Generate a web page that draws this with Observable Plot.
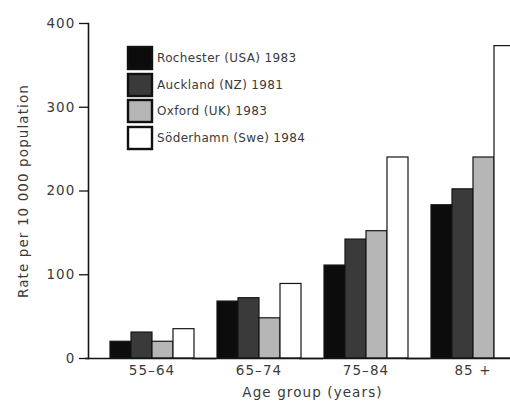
<!DOCTYPE html>
<html>
<head>
<meta charset="utf-8">
<script src="https://cdn.jsdelivr.net/npm/d3@7"></script>
<script src="https://cdn.jsdelivr.net/npm/@observablehq/plot@0.6"></script>
<style>
  html, body { margin: 0; padding: 0; background: #fff; }
  #chart { position: relative; width: 510px; height: 403px; overflow: hidden; }
  #legend { position: absolute; left: 128px; top: 47px; }
  #legend .lg-swatches { font-family: "DejaVu Sans", sans-serif !important; font-size: 12px !important; color: #3a3a3a !important; letter-spacing: 0.35px; margin: 0 !important; }
  #legend .lg-swatch { padding-bottom: 4.5px !important; margin: 0 !important; }
  #legend .lg-swatch svg { margin-right: 5px !important; }
  #legend .lg-swatch svg rect { stroke: #111; stroke-width: 2.4px; }
</style>
</head>
<body>
<div id="chart"><div id="legend"></div></div>
<script>
const ages = ["55–64", "65–74", "75–84", "85 +"];
const series = ["Rochester (USA) 1983", "Auckland (NZ) 1981", "Oxford (UK) 1983", "Söderhamn (Swe) 1984"];
const rochester = [20, 68, 111, 183];
const auckland = [31, 72, 142, 202];
const oxford = [20, 48, 152, 240];
const soderhamn = [35, 89, 240, 373];
const colors = ["#0c0c0c", "#3a3a3a", "#b6b6b6", "#ffffff"];
const yTicks = [0, 100, 200, 300, 400];

const seriesValues = [rochester, auckland, oxford, soderhamn];
const data = ages.flatMap((age, i) =>
  series.map((s, j) => ({age, series: s, value: seriesValues[j][i]}))
);

const plot = Plot.plot({
  width: 510,
  height: 403,
  marginLeft: 88,
  marginRight: 0,
  marginTop: 23,
  marginBottom: 45,
  style: {fontFamily: "DejaVu Sans, sans-serif", fontSize: "13.5px", color: "#3a3a3a", letterSpacing: "1.1px", background: "#fff"},
  fx: {domain: ages, range: [88, 536], paddingInner: 0.19, paddingOuter: 0.187},
  x: {domain: series, padding: 0, axis: null},
  y: {domain: [0, 400]},
  color: {domain: series, range: colors},
  marks: [
    Plot.barY(data, {fx: "age", x: "series", y: "value", fill: "series", stroke: "#141414", strokeWidth: 1.2}),
    Plot.ruleY([0], {stroke: "#141414", strokeWidth: 1.6, insetLeft: -23, insetRight: -21}),
    Plot.frame({anchor: "left", facetAnchor: "left", dx: -20, stroke: "#141414", strokeWidth: 1.6}),
    Plot.axisY(yTicks, {tickSize: 9, tickPadding: 4, dx: -20, stroke: "#141414", strokeWidth: 1.3,
      label: "Rate per 10 000 population", labelAnchor: "center", labelOffset: 90, labelArrow: "none"}),
    Plot.axisFx({anchor: "bottom", tickSize: 0, tickPadding: 7,
      label: "Age group (years)", labelAnchor: "center", labelOffset: 38, labelArrow: "none"})
  ]
});
document.getElementById("chart").prepend(plot);

const legend = Plot.legend({
  color: {domain: series, range: colors},
  legend: "swatches",
  columns: 1,
  swatchWidth: 24,
  swatchHeight: 22,
  className: "lg"
});
document.getElementById("legend").appendChild(legend);
</script>
</body>
</html>
